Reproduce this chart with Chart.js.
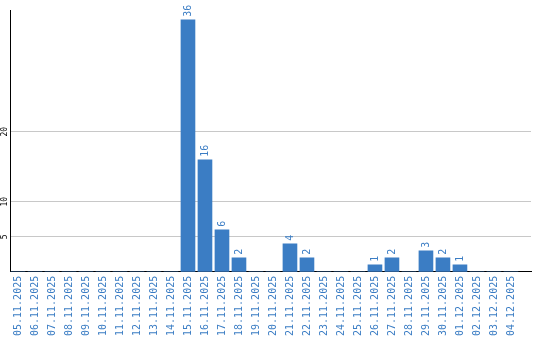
<!DOCTYPE html>
<html>
<head>
<meta charset="utf-8">
<script src="https://cdn.jsdelivr.net/npm/chart.js@4.4.0/dist/chart.umd.min.js"></script>
<style>
  html, body { margin: 0; padding: 0; background: #fff; }
  #chart { display: block; }
</style>
</head>
<body>
<canvas id="chart" width="540" height="340"></canvas>
<script>
const days = [
  "05.11.2025", "06.11.2025", "07.11.2025", "08.11.2025", "09.11.2025",
  "10.11.2025", "11.11.2025", "12.11.2025", "13.11.2025", "14.11.2025",
  "15.11.2025", "16.11.2025", "17.11.2025", "18.11.2025", "19.11.2025",
  "20.11.2025", "21.11.2025", "22.11.2025", "23.11.2025", "24.11.2025",
  "25.11.2025", "26.11.2025", "27.11.2025", "28.11.2025", "29.11.2025",
  "30.11.2025", "01.12.2025", "02.12.2025", "03.12.2025", "04.12.2025"
];
const orders = [
  0, 0, 0, 0, 0, 0, 0, 0, 0, 0,
  36, 16, 6, 2, 0, 0, 4, 2, 0, 0,
  0, 1, 2, 0, 3, 2, 1, 0, 0, 0
];
const yTicks = [5, 10, 20];

const BLUE = "#3b7dc4";

// value labels above bars + rotated y tick labels
const labelsPlugin = {
  id: "labels",
  afterDatasetsDraw(chart) {
    const ctx = chart.ctx;
    const meta = chart.getDatasetMeta(0);
    ctx.save();
    ctx.fillStyle = BLUE;
    ctx.font = "10px 'DejaVu Sans Mono'";
    ctx.textAlign = "left";
    ctx.textBaseline = "middle";
    meta.data.forEach((bar, i) => {
      if (!orders[i]) return;
      ctx.save();
      ctx.translate(bar.x, bar.y - 3);
      ctx.rotate(-Math.PI / 2);
      ctx.fillText(String(orders[i]), 0, 0);
      ctx.restore();
    });

    const y = chart.scales.y;
    ctx.fillStyle = "#000";
    ctx.font = "8px 'DejaVu Sans Mono'";
    ctx.textAlign = "center";
    yTicks.forEach(t => {
      ctx.save();
      ctx.translate(5, y.getPixelForValue(t));
      ctx.rotate(-Math.PI / 2);
      ctx.fillText(String(t), 0, 0);
      ctx.restore();
    });
    ctx.restore();
  }
};

new Chart(document.getElementById("chart").getContext("2d"), {
  type: "bar",
  data: {
    datasets: [{
      data: orders.map((v, i) => ({ x: i, y: v })),
      backgroundColor: BLUE,
      borderWidth: 0,
      barThickness: 14
    }]
  },
  options: {
    responsive: false,
    animation: false,
    layout: { padding: { top: 10, right: 9, left: 0, bottom: 0 } },
    plugins: { legend: { display: false }, tooltip: { enabled: false } },
    scales: {
      x: {
        type: "linear",
        offset: false,
        min: -0.47,
        max: 30.18,
        grid: { display: false, drawTicks: false, offset: false },
        border: { color: "#000", width: 1 },
        afterBuildTicks: s => { s.ticks = days.map((d, i) => ({ value: i })); },
        afterFit: s => { s.paddingLeft = 0; s.paddingRight = 0; },
        ticks: {
          autoSkip: false,
          minRotation: 90,
          maxRotation: 90,
          padding: 4,
          color: BLUE,
          font: { family: "DejaVu Sans Mono", size: 10 },
          callback: v => days[v]
        }
      },
      y: {
        min: 0,
        max: 37.4,
        afterBuildTicks: s => { s.ticks = yTicks.map(v => ({ value: v })); },
        afterFit: s => { s.width = 10; },
        grid: { color: "#c8c8c8", drawTicks: false },
        border: { color: "#000", width: 1 },
        ticks: { display: false }
      }
    }
  },
  plugins: [labelsPlugin]
});
</script>
</body>
</html>
